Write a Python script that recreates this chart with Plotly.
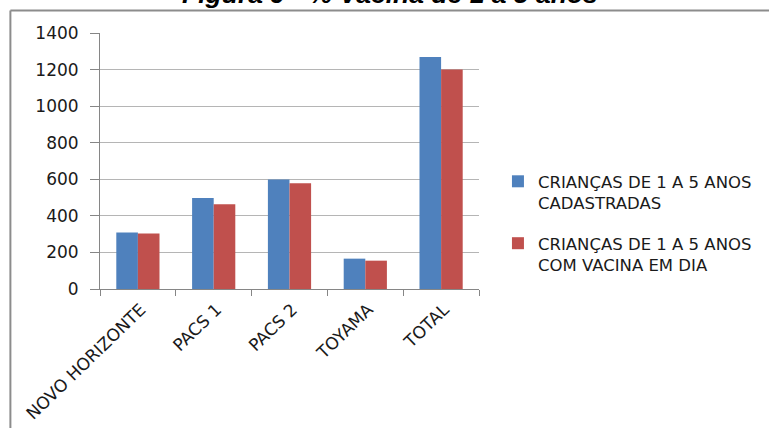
import plotly.graph_objects as go

categories = ["NOVO HORIZONTE", "PACS 1", "PACS 2", "TOYAMA", "TOTAL"]
cadastradas = [309, 497, 599, 166, 1269]
vacina_em_dia = [304, 464, 579, 155, 1200]
series_names = [
    "CRIANÇAS DE 1 A 5 ANOS<br>CADASTRADAS",
    "CRIANÇAS DE 1 A 5 ANOS<br>COM VACINA EM DIA",
]
y_ticks = [0, 200, 400, 600, 800, 1000, 1200, 1400]
title_text = "Figura 9 - % Vacina de 1 a 5 anos"

FONT = "DejaVu Sans"
AXIS_GRAY = "#868686"
FRAME_GRAY = "#8c8c8c"

# plot area in pixels: x 100..487, y 33..289
frame_left = (8.5 - 100) / 387
frame_top = (289 - 10.5) / 256

fig = go.Figure()
fig.add_trace(go.Bar(
    x=categories, y=cadastradas, name=series_names[0],
    marker=dict(color="#4F81BD", line=dict(width=0)),
    legendgroup="a",
))
fig.add_trace(go.Bar(
    x=categories, y=vacina_em_dia, name=series_names[1],
    marker=dict(color="#C0504D", line=dict(width=0)),
    legendgroup="b",
))

fig.update_layout(
    width=769, height=428,
    margin=dict(l=100, r=282, t=33, b=139),
    paper_bgcolor="white", plot_bgcolor="white",
    font=dict(family=FONT, size=17, color="#000000"),
    barmode="group", bargap=0.43, bargroupgap=0,
    showlegend=True,
    legend=dict(
        x=1.05, y=0.488, xanchor="left", yanchor="top",
        font=dict(family=FONT, size=16.5, color="#1a1a1a"),
        valign="top", tracegroupgap=16, itemwidth=30,
        bgcolor="rgba(0,0,0,0)",
    ),
    annotations=[dict(
        text="<b><i>" + title_text + "</i></b>",
        xref="paper", yref="paper", x=(396 - 100) / 387, y=1.153,
        xanchor="center", yanchor="middle", showarrow=False,
        font=dict(family="Liberation Sans", size=26.5, color="#000000"),
    )],
    shapes=[
        dict(type="line", xref="paper", yref="paper",
             x0=frame_left, x1=frame_left, y0=-1.0, y1=frame_top,
             line=dict(color=FRAME_GRAY, width=2)),
        dict(type="line", xref="paper", yref="paper",
             x0=frame_left, x1=2.0, y0=frame_top, y1=frame_top,
             line=dict(color=FRAME_GRAY, width=2)),
    ],
)

fig.update_xaxes(
    type="category", showgrid=False, automargin=False,
    showline=True, linecolor=AXIS_GRAY, linewidth=1,
    ticks="outside", tickson="boundaries", ticklen=6, tickcolor=AXIS_GRAY,
    tickangle=-44, ticklabelstandoff=3, ticklabelshift=3,
    tickfont=dict(family=FONT, size=17, color="#1a1a1a"),
)
fig.update_yaxes(
    range=[0, 1400], tickvals=y_ticks, automargin=False,
    showgrid=True, gridcolor="#B5B5B5", gridwidth=1,
    showline=True, linecolor=AXIS_GRAY, linewidth=1,
    ticks="outside", ticklen=9, tickcolor=AXIS_GRAY,
    ticklabelstandoff=8,
    tickfont=dict(family=FONT, size=17, color="#1a1a1a"),
    zeroline=False,
)

# the page body has a default 8px margin; drop it so the figure sits at 0,0
fig.write_html(
    "out.html",
    config={"displayModeBar": False},
    post_script="document.body.style.margin='0';",
)
